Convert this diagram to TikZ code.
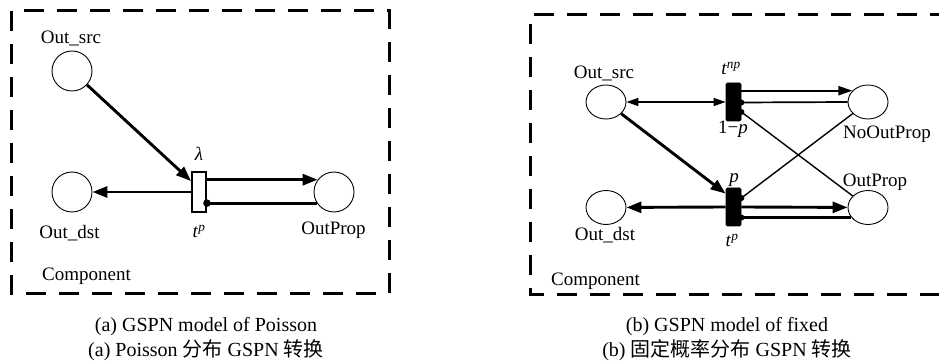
\documentclass[tikz,border=0pt]{standalone}
\usepackage{fontspec}
\setmainfont{Liberation Serif}
\newfontfamily\cjk{Noto Sans CJK SC}
\usetikzlibrary{arrows.meta,shapes.geometric,calc}
\tikzset{
  lbl/.style={font=\fontsize{19}{22}\selectfont, anchor=base, inner sep=0pt},
  captext/.style={font=\fontsize{20}{24}\selectfont, anchor=base, inner sep=0pt},
  place/.style={draw, circle, minimum size=40pt, inner sep=0pt, line width=0.9pt},
  eplace/.style={draw, ellipse, minimum width=40pt, minimum height=34pt, inner sep=0pt, line width=0.9pt},
  wtrans/.style={draw, fill=white, rectangle, minimum width=14pt, minimum height=40pt, inner sep=0pt, line width=1.9pt},
  btrans/.style={draw, fill=black, rectangle, rounded corners=1.5pt, minimum width=15pt, minimum height=38pt, inner sep=0pt, line width=0.8pt},
  compbox/.style={line width=3pt, dash pattern=on 20pt off 13pt},
  thickarc/.style={line width=2.9pt, -{Triangle[length=15pt,width=11pt]}},
  midarc/.style={line width=2pt, -{Triangle[length=14pt,width=9pt]}},
  thinarc/.style={line width=1.4pt},
  dotfill/.style={fill=black}
}
\begin{document}
\begin{tikzpicture}[x=1pt,y=-1pt]
\clip (0,0) rectangle (939,363);
\fill[white] (0,0) rectangle (939,363);

% ---------------- panel (a) ----------------
\draw[compbox] (11,11) rectangle (389,293);
\node[place] (asrc) at (72,71) {};
\node[place] (adst) at (72,192) {};
\node[place] (aop)  at (334,192) {};
\node[wtrans] (ta) at (199,192) {};
\coordinate (ain) at ($(ta.north west)+(0,10)$);
\coordinate (adot) at (ta.east |- aop.213);

\draw[thickarc] (asrc) -- (ain);
\draw[thickarc] (ta.west) -- (adst);
\draw[thickarc] (ta.east |- aop.143) -- (aop.143);
\draw[line width=2.9pt] (aop.213) -- (adot);
\fill[dotfill] (adot) circle (3.8);

\node[lbl] (lsrc) at (71,44) {Out\_src};
\node[lbl] (ldst) at (69.5,239) {Out\_dst};
\node[lbl] (lop) at (333.5,235) {OutProp};
\node[lbl] (llam) at (199,161) {\textit{λ}};
\node[lbl] (ltpa) at (199,238) {\textit{t}\textsuperscript{\textit{p}}};
\node[lbl, anchor=base west] (lcompa) at (42,280) {Component};

% ---------------- panel (b) ----------------
\draw[compbox] (950,15) -- (530,15) -- (530,294) -- (950,294);
\node[eplace] (bsrc) at (606,102) {};
\node[eplace] (bdst) at (606,207.5) {};
\node[eplace] (nop)  at (868,102) {};
\node[eplace] (bop)  at (868,207.5) {};
\node[btrans] (tnp) at (733.5,102) {};
\node[btrans] (tp)  at (733.5,207) {};

\coordinate (np1) at ($(tnp.east)+(0,0.5)$);
\coordinate (np2) at ($(tnp.east)+(0,10)$);
\coordinate (p1)  at ($(tp.east)+(0,-9)$);
\coordinate (p2)  at (tp.east |- bop.211);
\coordinate (pin) at ($(tp.north west)+(0,6)$);

\draw[thinarc, {Triangle[length=12pt,width=8pt]}-{Triangle[length=12pt,width=8pt]}] (bsrc) -- (tnp.west);
\draw[midarc] (tnp.east |- nop.144) -- (nop.144);
\draw[line width=1.7pt] (nop.west) -- (np1);
\draw[thinarc] (bop) -- (np2);
\draw[thinarc] (nop) -- (p1);
\draw[thickarc] (bsrc) -- (pin);
\draw[thickarc] (tp.west) -- (bdst);
\draw[thickarc] (tp.east) -- (bop);
\draw[line width=2.6pt] (bop.211) -- (p2);
\fill[dotfill] (np1) circle (3);
\fill[dotfill] (np2) circle (3);
\fill[dotfill] (p1) circle (3);
\fill[dotfill] (p2) circle (3);

\node[lbl] (lbsrc) at (604,79) {Out\_src};
\node[lbl] (lbdst) at (605,241) {Out\_dst};
\node[lbl] (lnop) at (887,139) {NoOutProp};
\node[lbl] (lbop) at (875,187) {OutProp};
\node[lbl] (ltnp) at (731,75) {\textit{t}\textsuperscript{\textit{np}}};
\node[lbl] (l1p) at (733,134) {1−\textit{p}};
\node[lbl] (lp) at (734,183) {\textit{p}};
\node[lbl] (ltpb) at (732,247) {\textit{t}\textsuperscript{\textit{p}}};
\node[lbl, anchor=base west] (lcompb) at (551,285) {Component};

% ---------------- captions ----------------
\node[captext] (capa1) at (206,331) {(a) GSPN model of Poisson};
\node[captext] (capa2) at (206,356) {(a) Poisson {\cjk 分布} GSPN {\cjk 转换}};
\node[captext] (capb1) at (727,331) {(b) GSPN model of fixed};
\node[captext] (capb2) at (727,356) {(b) {\cjk 固定概率分布} GSPN {\cjk 转换}};
\end{tikzpicture}
\end{document}
